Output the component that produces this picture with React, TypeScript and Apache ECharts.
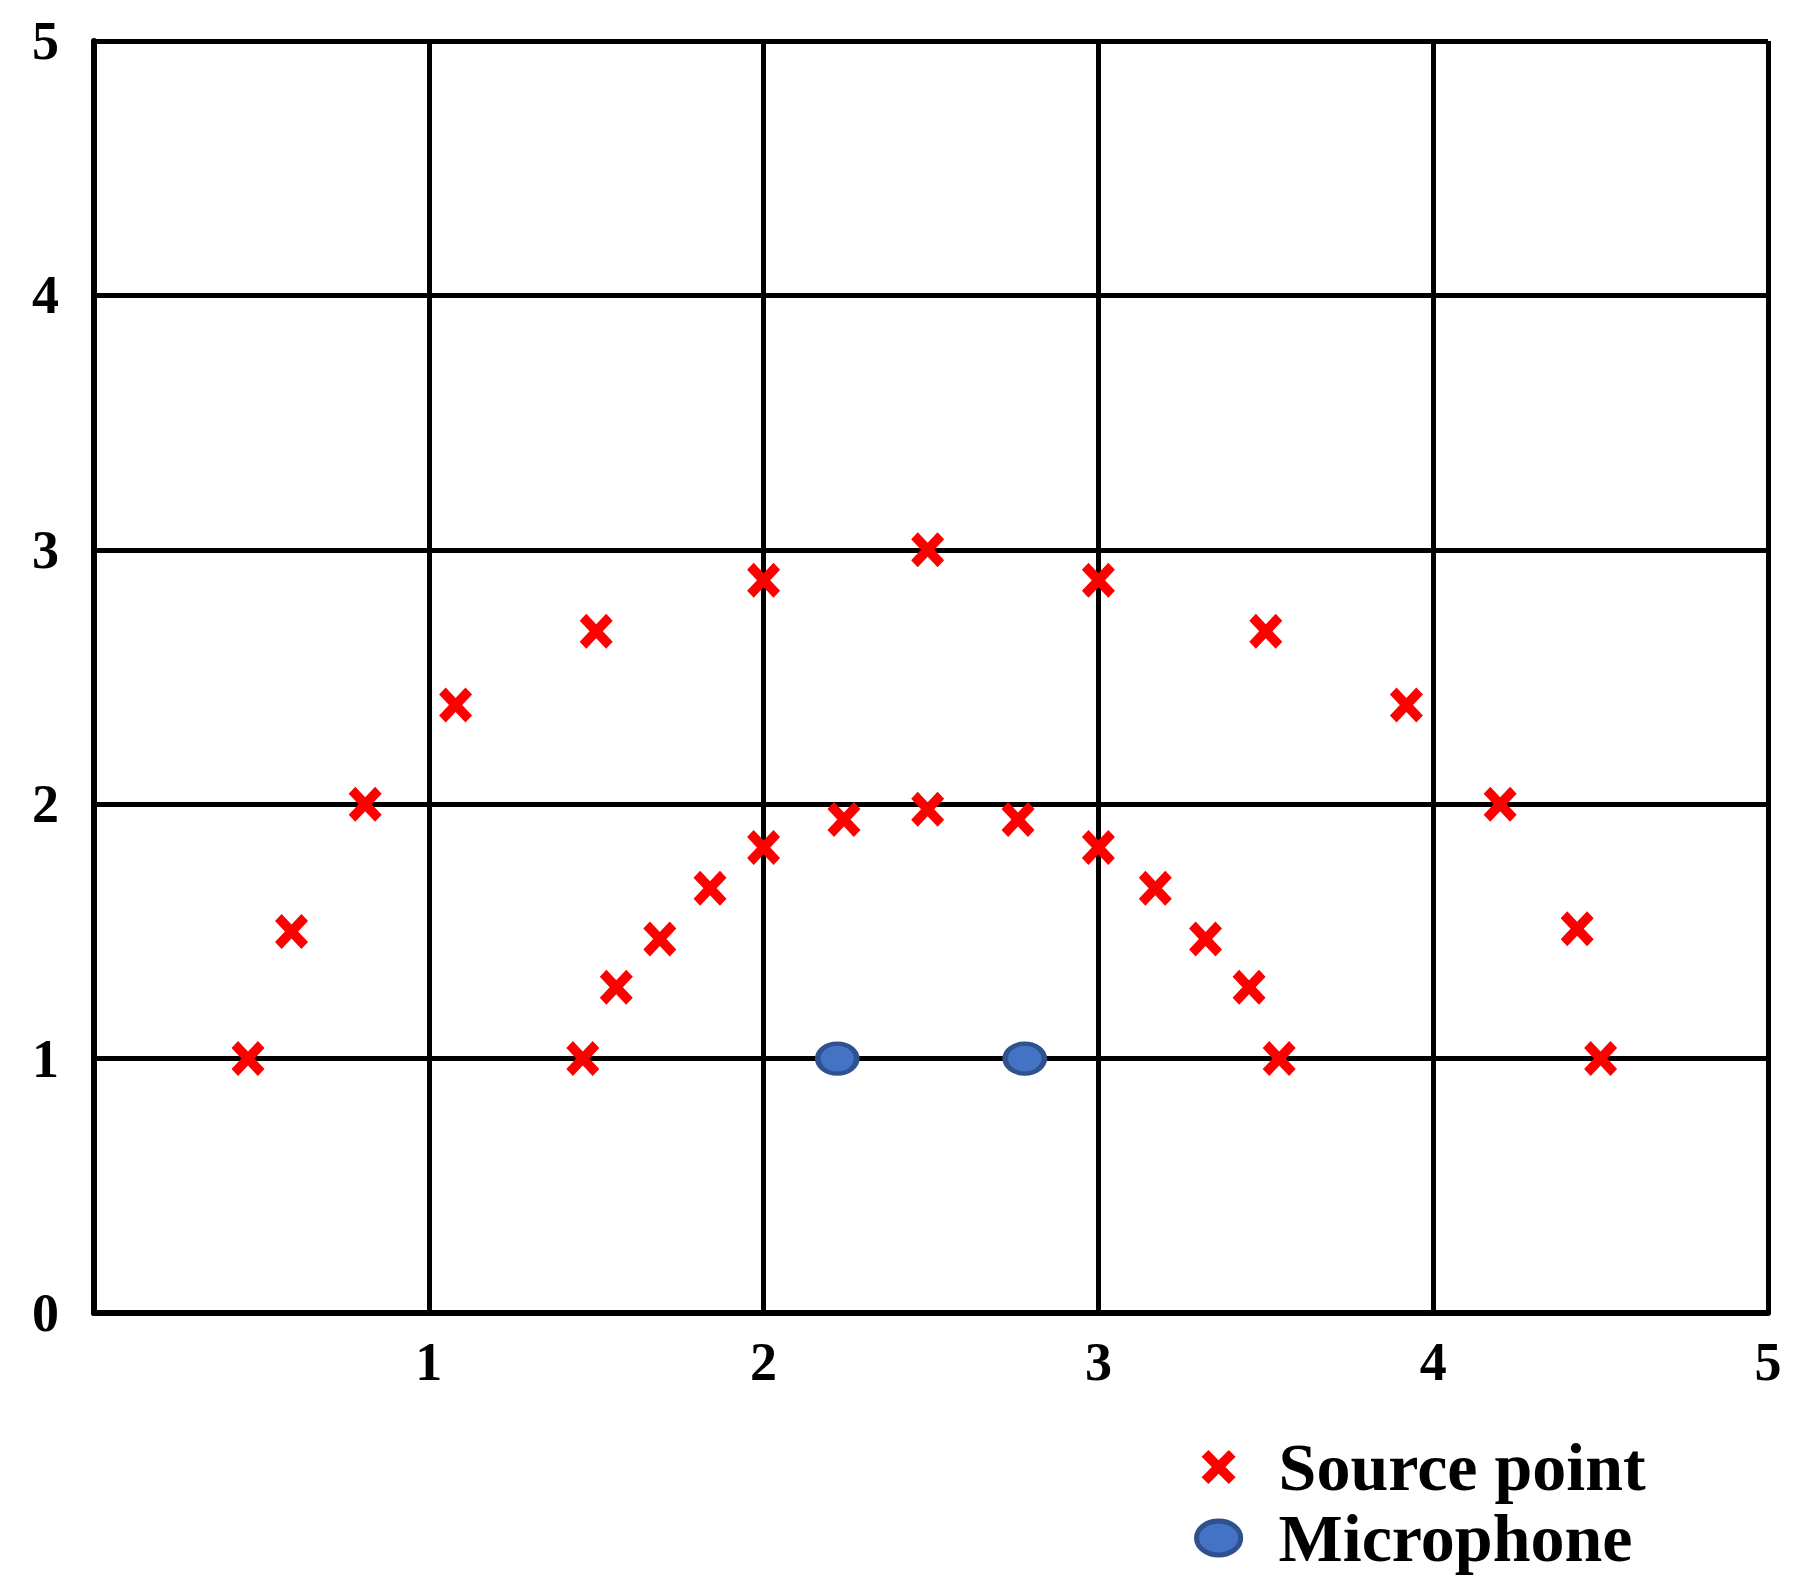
import React, { useEffect, useRef } from "react";
import * as echarts from "echarts";

const sourceX = [0.46, 0.59, 0.81, 1.08, 1.5, 2.0, 2.49, 3.0, 3.5, 3.92, 4.2, 4.43, 4.5, 1.46, 1.56, 1.69, 1.84, 2.0, 2.24, 2.49, 2.76, 3.0, 3.17, 3.32, 3.45, 3.54];
const sourceY = [1.0, 1.5, 2.0, 2.39, 2.68, 2.88, 3.0, 2.88, 2.68, 2.39, 2.0, 1.51, 1.0, 1.0, 1.28, 1.47, 1.67, 1.83, 1.94, 1.98, 1.94, 1.83, 1.67, 1.47, 1.28, 1.0];
const micX = [2.22, 2.78];
const micY = [1.0, 1.0];
const seriesNames = ["Source point", "Microphone"];

const X_PATH =
  "path://M0,20 L20,0 L50,30 L80,0 L100,20 L70,50 L100,80 L80,100 L50,70 L20,100 L0,80 L30,50 Z";
const ELLIPSE_PATH =
  "path://M19.5,0 C30.27,0 39,6.72 39,15 C39,23.28 30.27,30 19.5,30 C8.73,30 0,23.28 0,15 C0,6.72 8.73,0 19.5,0 Z";

const FONT = "'Liberation Serif', 'Times New Roman', serif";

export default function App() {
  const ref = useRef<HTMLDivElement>(null);
  useEffect(() => {
    if (!ref.current) return;
    const chart = echarts.init(ref.current, null, { renderer: "svg" });
    const src = sourceX.map((x, i) => [x, sourceY[i]]);
    const mic = micX.map((x, i) => [x, micY[i]]);
    chart.setOption({
      animation: false,
      backgroundColor: "#ffffff",
      grid: { left: 94, right: 30, top: 41, bottom: 276, containLabel: false },
      xAxis: {
        type: "value",
        min: 0,
        max: 5,
        interval: 1,
        axisLine: { show: true, lineStyle: { color: "#000", width: 6 } },
        axisTick: { show: false },
        splitLine: { show: true, lineStyle: { color: "#000", width: 5 } },
        axisLabel: {
          showMinLabel: false,
          margin: 22,
          color: "#000",
          fontFamily: FONT,
          fontWeight: "bold",
          fontSize: 54,
        },
      },
      yAxis: {
        type: "value",
        min: 0,
        max: 5,
        interval: 1,
        axisLine: { show: true, lineStyle: { color: "#000", width: 6 } },
        axisTick: { show: false },
        splitLine: { show: true, lineStyle: { color: "#000", width: 5 } },
        axisLabel: {
          margin: 35,
          color: "#000",
          fontFamily: FONT,
          fontWeight: "bold",
          fontSize: 54,
        },
      },
      legend: {
        orient: "vertical",
        left: 1194,
        top: 1433,
        padding: 0,
        itemWidth: 110,
        itemHeight: 34,
        itemGap: 3,
        symbolKeepAspect: true,
        textStyle: {
          color: "#000",
          fontFamily: FONT,
          fontWeight: "bold",
          fontSize: 68,
        },
        data: [
          { name: seriesNames[0], icon: X_PATH },
          {
            name: seriesNames[1],
            icon: ELLIPSE_PATH,
            itemStyle: { color: "#4472C4", borderColor: "#2F528F", borderWidth: 5 },
          },
        ],
      },
      series: [
        {
          name: seriesNames[0],
          type: "scatter",
          data: src,
          symbol: X_PATH,
          symbolSize: [33, 35],
          itemStyle: { color: "#ff0000", opacity: 1 },
          z: 3,
        },
        {
          name: seriesNames[1],
          type: "scatter",
          data: mic,
          symbol: ELLIPSE_PATH,
          symbolSize: [39, 30],
          itemStyle: { color: "#4472C4", borderColor: "#2F528F", borderWidth: 5, opacity: 1 },
          z: 3,
        },
      ],
    });
    return () => chart.dispose();
  }, []);
  return (
    <div
      ref={ref}
      style={{ position: "fixed", left: 0, top: 0, width: 1798, height: 1589, background: "#fff" }}
    />
  );
}
